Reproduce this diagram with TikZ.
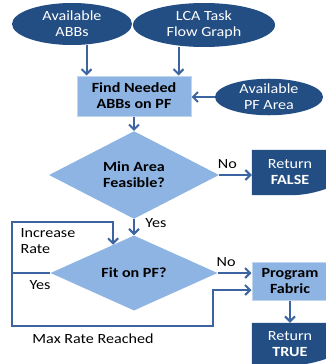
\documentclass[tikz,border=0pt]{standalone}
\usepackage{fontspec}
\setmainfont{Carlito}[FakeStretch=1.15]
\usetikzlibrary{shapes.geometric, arrows.meta, calc, backgrounds}

\definecolor{darkblue}{RGB}{35,78,132}
\definecolor{lightblue}{RGB}{141,180,226}
\definecolor{lineblue}{RGB}{60,100,160}

% filled box with a wavy lower edge, drawn behind a result node
\newcommand{\wavebox}[1]{%
	\fill[darkblue] (#1.north west) -- (#1.north east) -- ([yshift=7pt]#1.south east)
		.. controls +(-12pt,-4pt) and +(15pt,0pt) .. ([xshift=-38pt]#1.south east)
		-- (#1.south west) -- cycle;}

\begin{document}
\begin{tikzpicture}[x=1pt, y=-1pt,
			every node/.style={font=\fontsize{14}{16}\selectfont},
			input/.style={ellipse, fill=darkblue, text=white, inner sep=0pt, align=center},
			process/.style={rectangle, fill=lightblue, draw=lightblue!55!white, line width=1pt, inner sep=0pt, align=center, font=\fontsize{14}{16}\selectfont\bfseries},
			decision/.style={diamond, fill=lightblue, inner sep=0pt, align=center, font=\fontsize{14}{16}\selectfont\bfseries},
			result/.style={rectangle, inner sep=0pt, text=white, align=center},
			flow/.style={draw=lineblue, line width=2pt, -{Straight Barb[length=5pt, width=10pt]}},
			link/.style={draw=lineblue, line width=2pt},
		]
		\useasboundingbox (0,0) rectangle (325,364);

		\node[input, minimum width=120pt, minimum height=42pt] (abbs) at (72,24)   {Available\\ABBs};
		\node[input, minimum width=142pt, minimum height=44pt] (lca)  at (204,25)  {LCA Task\\Flow Graph};
		\node[process, minimum width=114pt, minimum height=40pt] (find) at (134,96) {Find Needed\\ABBs on PF};
		\node[input, minimum width=108pt, minimum height=36pt] (area) at (269,97)  {Available\\PF Area};
		\node[decision, minimum width=170pt, minimum height=68pt] (minarea) at (134,175) {Min Area\\Feasible?};
		\node[result, minimum width=76pt, minimum height=45pt] (false) at (290,172.5) {Return\\\textbf{FALSE}};
		\node[decision, minimum width=167pt, minimum height=66pt] (fit) at (134,273) {Fit on PF?};
		\node[process, minimum width=76pt, minimum height=38pt] (fabric) at (290,281.5) {Program\\Fabric};
		\node[result, minimum width=76pt, minimum height=42pt] (true) at (290,344) {Return\\\textbf{TRUE}};

		\begin{pgfonlayer}{background}
			\wavebox{false}
			\wavebox{true}
		\end{pgfonlayer}

		\coordinate (abbsin) at ([xshift=10pt]find.north west);
		\coordinate (lcain)  at ([xshift=-13pt]find.north east);
		\draw[flow] (abbs.south -| abbsin) -- (abbsin);
		\draw[flow] (lca.south -| lcain) -- (lcain);
		\draw[flow] (area.west) -- (area.west -| find.east);
		\draw[flow] (find) -- (minarea);

		\draw[flow] (minarea.east) -- (minarea.east -| false.west) node[pos=0.25, above=2pt] {No};
		\draw[flow] (minarea) -- (fit) node[pos=0.25, right=7pt] {Yes};
		\draw[flow] (fit.east) -- (fit.east -| fabric.west) node[pos=0.25, above=2pt] {No};
		\draw[flow] (fabric) -- (true);

		% rate loop on the left of the second test
		\coordinate (split) at (12,273);
		\coordinate (retry) at ($(fit.north)!0.25!(fit.west)$);
		\coordinate (maxin) at ([yshift=-8.5pt]fabric.west);
		\draw[link] (fit.west) -- (split);
		\draw[flow] (split) -- ++(0,-51) -| (retry);
		\draw[flow] (split) -- ++(0,53) -| ([xshift=-39pt]maxin) -- (maxin);

		\node[anchor=west, align=left] (increase) at (17,241) {Increase\\Rate};
		\node (yes) at (40,285) {Yes};
		\node (maxrate) at (93,339) {Max Rate Reached};

		\end{tikzpicture}
\end{document}
